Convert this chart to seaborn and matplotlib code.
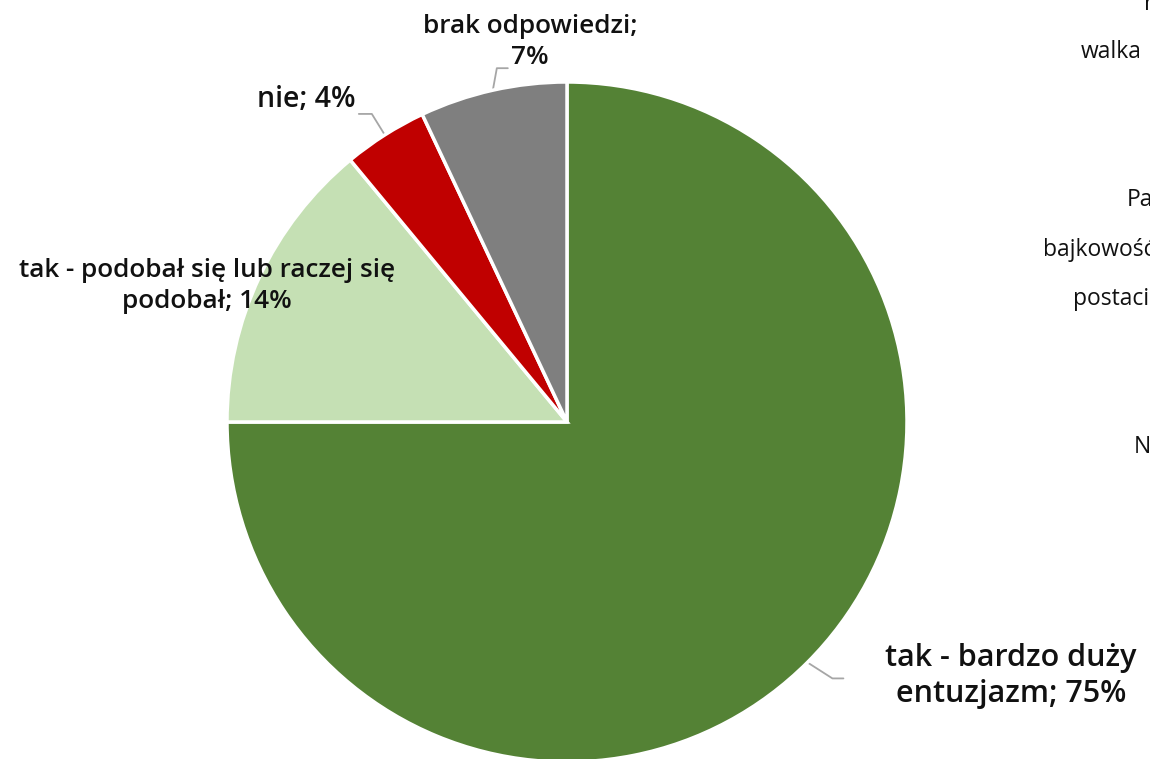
import numpy as np
import matplotlib
matplotlib.use("Agg")
import matplotlib.pyplot as plt
import seaborn as sns

# ---- data ----
categories = ["tak - bardzo duży\nentuzjazm", "tak - podobał się lub raczej się\npodobał", "nie", "brak odpowiedzi"]
values = [75, 14, 4, 7]
colors = ["#548235", "#C5E0B4", "#C00000", "#7F7F7F"]
side_texts = ["r", "walka", "Pa", "bajkowość", "postaci", "N"]

sns.set_theme(style="white")
plt.rcParams['font.family'] = ['Open Sans', 'DejaVu Sans']

W, H = 1150, 759
fig = plt.figure(figsize=(W / 100, H / 100), dpi=100)
ax = fig.add_axes([0, 0, 1, 1])

cx, cy, R = 567, H - 422, 340
wedges, _ = ax.pie(values, colors=colors, startangle=90, counterclock=False,
                   center=(cx, cy), radius=R,
                   wedgeprops=dict(edgecolor="white", linewidth=2.5))
ax.set_xlim(0, W)
ax.set_ylim(0, H)
ax.set_aspect("equal")
ax.axis("off")

label_cfg = [
    dict(pos=(1011, H - 676), size=22, elbow=(25, -16), hend=(36, -16)),
    dict(pos=(207, H - 286), size=18.8, elbow=None, hend=None),
    dict(pos=(306, H - 100), size=20.5, elbow=(-13, 21), hend=(-26, 21)),
    dict(pos=(530, H - 42), size=18.8, elbow=(4, 22), hend=(15, 22)),
]
pct_texts = [f"{v}%" for v in values]
for w, cat, pct, cfg in zip(wedges, categories, pct_texts, label_cfg):
    if cat == "brak odpowiedzi":
        txt = f"{cat};\n{pct}"
    else:
        txt = f"{cat}; {pct}"
    ax.text(cfg["pos"][0], cfg["pos"][1], txt, ha="center", va="center",
            fontsize=cfg["size"], fontweight="semibold", color="#111111", linespacing=1.28)
    if cfg["elbow"] is not None:
        ang = np.deg2rad((w.theta1 + w.theta2) / 2)
        ex, ey = cx + R * np.cos(ang), cy + R * np.sin(ang)
        xs = [ex, ex + cfg["elbow"][0], ex + cfg["hend"][0]]
        ys = [ey, ey + cfg["elbow"][1], ey + cfg["hend"][1]]
        ax.plot(xs, ys, color="#A6A6A6", lw=1.3, zorder=0.5, clip_on=False)

# partially visible labels of a neighbouring chart, cut by the right edge
side_pos = [(1144, H - 4), (1081, H - 52), (1127, H - 200), (1043, H - 250), (1073, H - 299), (1134, H - 447)]
for t, (x, y) in zip(side_texts, side_pos):
    ax.text(x, y, t, ha="left", va="center", fontsize=16.5, color="#111111")

fig.savefig("out.png", dpi=100)
